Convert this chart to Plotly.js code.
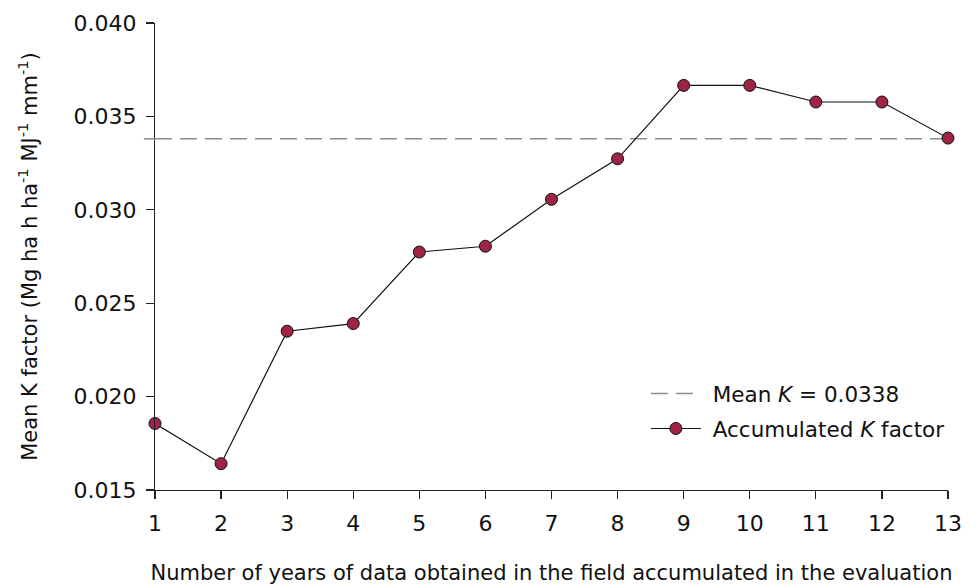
<!DOCTYPE html>
<html>
<head>
<meta charset="utf-8">
<script src="https://cdn.plot.ly/plotly-3.0.1.min.js"></script>
<style>html,body{margin:0;padding:0;background:#fff;}#chart{width:978px;height:588px;}</style>
</head>
<body>
<div id="chart"></div>
<script>
const years = [1,2,3,4,5,6,7,8,9,10,11,12,13];
const accumulatedK = [0.01856,0.01641,0.02350,0.02391,0.02774,0.02805,0.03056,0.03273,0.03666,0.03666,0.03577,0.03577,0.03384];
const meanK = 0.0338;
const yTicks = [0.015,0.020,0.025,0.030,0.035,0.040];
const xTicks = years;

const FONT = 'DejaVu Sans';

const traces = [
  {
    x: [years[0], years[years.length-1]],
    y: [meanK, meanK],
    mode: 'lines',
    name: '&nbsp;Mean <i>K</i> = 0.0338',
    line: {color: '#8c8c8c', width: 1.5, dash: '17px,8px'},
    legendgroup: 'a',
    hoverinfo: 'skip'
  },
  {
    x: years,
    y: accumulatedK,
    mode: 'lines+markers',
    name: '&nbsp;Accumulated <i>K</i> factor',
    line: {color: '#111', width: 1.2},
    marker: {size: 12, color: '#9e2344', line: {color: '#111', width: 1}},
    legendgroup: 'b',
    cliponaxis: false
  }
];

const layout = {
  width: 978, height: 588,
  margin: {l: 155, r: 30, t: 23, b: 98},
  paper_bgcolor: '#fff', plot_bgcolor: '#fff',
  font: {family: FONT, size: 21, color: '#111'},
  showlegend: true,
  legend: {
    x: 0.619, y: 0.169, xanchor: 'left', yanchor: 'middle',
    bgcolor: 'rgba(0,0,0,0)', borderwidth: 0,
    font: {family: FONT, size: 21.5, color: '#111'},
    traceorder: 'grouped', tracegroupgap: 4, itemwidth: 50
  },
  xaxis: {
    range: [1, 13], tickvals: xTicks, ticktext: xTicks.map(String),
    showgrid: false, zeroline: false, showline: true, linecolor: '#222', linewidth: 1.2,
    ticks: 'outside', ticklen: 8, tickcolor: '#222', tickwidth: 1.2,
    tickfont: {family: FONT, size: 22}, ticklabelstandoff: 5,
    title: {text: 'Number of years of data obtained in the field accumulated in the evaluation', font: {family: FONT, size: 21}, standoff: 30}
  },
  yaxis: {
    range: [0.015, 0.040], tickvals: yTicks, ticktext: yTicks.map(v => v.toFixed(3)),
    showgrid: false, zeroline: false, showline: true, linecolor: '#222', linewidth: 1.2,
    ticks: 'outside', ticklen: 8, tickcolor: '#222', tickwidth: 1.2,
    tickfont: {family: FONT, size: 22}, ticklabelstandoff: 5,
    title: {text: 'Mean K factor (Mg ha h ha<sup>-1</sup> MJ<sup>-1</sup> mm<sup>-1</sup>)', font: {family: FONT, size: 21}, standoff: 30}
  },
  shapes: [
    {type: 'line', xref: 'paper', yref: 'y', x0: -0.014, x1: 0, y0: meanK, y1: meanK,
     line: {color: '#8c8c8c', width: 1.5, dash: '17px,8px'}}
  ]
};

Plotly.newPlot('chart', traces, layout, {displayModeBar: false, staticPlot: true});
</script>
</body>
</html>
